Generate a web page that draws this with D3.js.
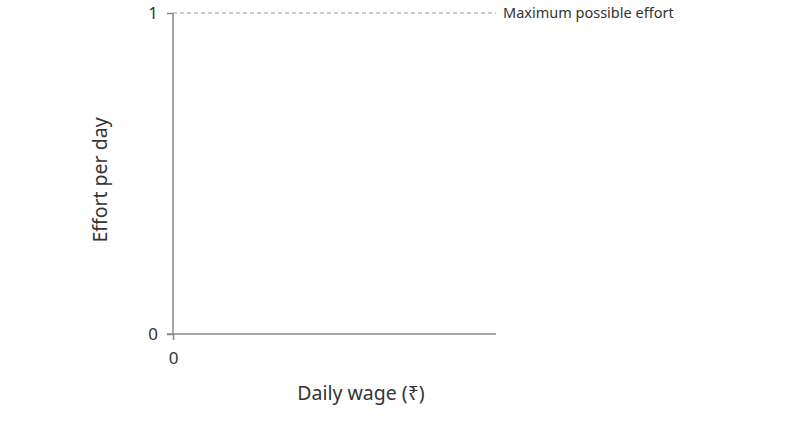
<!DOCTYPE html>
<html>
<head>
<meta charset="utf-8">
<script src="https://cdn.jsdelivr.net/npm/d3@7"></script>
<style>
  body { margin: 0; background: #fff; }
  svg text { font-family: "Noto Sans", "DejaVu Sans", sans-serif; fill: #333; }
</style>
</head>
<body>
<div id="wrapper"></div>
<script>
// data
const xTicks = [0]
const yTicks = [0, 1]
const xDomain = [0, 1]
const yDomain = [0, 1]
const maxEffort = 1
const maxEffortLabel = "Maximum possible effort"
const xTitle = "Daily wage (₹)"
const yTitle = "Effort per day"

function drawChart() {
    const dimensions = {
        width: 809,
        height: 428,
        margin: { top: 13, right: 313, bottom: 94, left: 173 },
    }
    dimensions.boundedWidth = dimensions.width - dimensions.margin.left - dimensions.margin.right
    dimensions.boundedHeight = dimensions.height - dimensions.margin.top - dimensions.margin.bottom

    const svg = d3.select("#wrapper").append("svg")
        .attr("width", dimensions.width)
        .attr("height", dimensions.height)

    const bounds = svg.append("g")
        .attr("transform", `translate(${dimensions.margin.left},${dimensions.margin.top})`)

    const xScale = d3.scaleLinear().domain(xDomain).range([0, dimensions.boundedWidth])
    const yScale = d3.scaleLinear().domain(yDomain).range([dimensions.boundedHeight, 0])

    // dashed max effort line
    bounds.append("line")
        .attr("x1", 0)
        .attr("x2", xScale(xDomain[1]))
        .attr("y1", yScale(maxEffort))
        .attr("y2", yScale(maxEffort))
        .attr("stroke", "#999")
        .attr("stroke-width", 1.2)
        .attr("stroke-dasharray", "4,3")

    bounds.append("text")
        .attr("x", xScale(xDomain[1]) + 7)
        .attr("y", yScale(maxEffort))
        .attr("dy", "0.35em")
        .style("font-size", "14.5px")
        .text(maxEffortLabel)

    // axes
    const xAxis = bounds.append("g")
        .attr("transform", `translate(0,${dimensions.boundedHeight})`)
        .call(d3.axisBottom(xScale).tickValues(xTicks).tickSize(6).tickFormat(d3.format("d")))
    const yAxis = bounds.append("g")
        .call(d3.axisLeft(yScale).tickValues(yTicks).tickSize(6).tickFormat(d3.format("d")))

    ;[xAxis, yAxis].forEach(ax => {
        ax.select(".domain").attr("stroke", "#888").attr("stroke-width", 1.5)
        ax.selectAll(".tick line").attr("stroke", "#888").attr("stroke-width", 1.5)
        ax.selectAll(".tick text")
            .style("font-size", "17px")
            .style("font-family", "\"Noto Sans\", \"DejaVu Sans\", sans-serif")
            .attr("fill", "#333")
    })
    xAxis.select(".domain").attr("d", `M-6,0H${dimensions.boundedWidth}`)
    yAxis.select(".domain").attr("d", `M0,${dimensions.boundedHeight}V0`)
    xAxis.selectAll(".tick text").attr("y", 18)
    yAxis.selectAll(".tick text").attr("x", -15)

    // titles
    svg.append("text")
        .attr("x", 361)
        .attr("y", 400)
        .attr("text-anchor", "middle")
        .style("font-size", "19.5px")
        .text(xTitle)

    svg.append("text")
        .attr("transform", `translate(107,180) rotate(-90)`)
        .attr("text-anchor", "middle")
        .style("font-size", "19.5px")
        .text(yTitle)
}

drawChart()
</script>
</body>
</html>
